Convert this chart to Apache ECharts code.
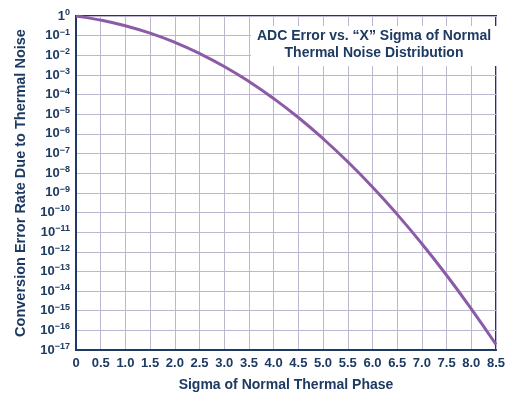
<!DOCTYPE html>
<html>
<head>
<meta charset="utf-8">
<script src="https://cdn.jsdelivr.net/npm/echarts@6/dist/echarts.min.js"></script>
<style>
  html, body { margin: 0; padding: 0; background: #fff; }
  #chart { width: 512px; height: 397px; }
</style>
</head>
<body>
<div id="chart"></div>
<script>
// sigma values on x axis
const sigma = [0, 0.5, 1, 1.5, 2, 2.5, 3, 3.5, 4, 4.5, 5, 5.5, 6, 6.5, 7, 7.5, 8, 8.5]
// conversion error rate
const errorRate = [1, 0.617, 0.317, 0.134, 0.0455, 0.0124, 0.0027, 4.65e-4, 6.3e-5, 6.8e-6,
  5.7e-7, 3.8e-8, 1.97e-9, 8.0e-11, 2.56e-12, 6.4e-14, 1.24e-15, 1.9e-17]
const yExponents = [0, -1, -2, -3, -4, -5, -6, -7, -8, -9, -10, -11, -12, -13, -14, -15, -16, -17]

const navy = '#1d3a62'
const chart = echarts.init(document.getElementById('chart'))

const option = {
  animation: false,
  textStyle: { fontFamily: 'Liberation Sans, Arial, sans-serif' },
  title: {
    text: 'ADC Error vs. \u201cX\u201d Sigma of Normal\nThermal Noise Distribution',
    left: 368,
    top: 26,
    textAlign: 'center',
    backgroundColor: '#fff',
    padding: [2, 6, 4, 6],
    textStyle: { color: navy, fontSize: 14, fontWeight: 'bold', lineHeight: 17 }
  },
  grid: {
    left: 76, right: 16, top: 16, bottom: 47,
    outerBoundsMode: 'none',
    containLabel: false,
    show: true, borderColor: navy, borderWidth: 2
  },
  xAxis: {
    type: 'value',
    min: 0, max: 8.5, interval: 0.5,
    name: 'Sigma of Normal Thermal Phase',
    nameLocation: 'middle',
    nameGap: 28,
    nameTextStyle: { color: navy, fontSize: 14, fontWeight: 'bold' },
    axisLine: { lineStyle: { color: navy, width: 2 } },
    axisTick: { show: false },
    axisLabel: {
      color: navy, fontSize: 13, fontWeight: 'bold', margin: 7,
      formatter: v => v === 0 ? '0' : v.toFixed(1)
    },
    splitLine: { lineStyle: { color: '#bdb8cf', width: 1 } }
  },
  yAxis: {
    type: 'log',
    logBase: 10,
    min: 1e-17, max: 1,
    interval: 1,
    name: 'Conversion Error Rate Due to Thermal Noise',
    nameLocation: 'middle',
    nameGap: 48,
    nameMoveOverlap: false,
    nameTextStyle: { color: navy, fontSize: 14.5, fontWeight: 'bold' },
    axisLine: { lineStyle: { color: navy, width: 2 } },
    axisTick: { show: false },
    axisLabel: {
      margin: 6,
      formatter: v => {
        const e = Math.round(Math.log10(v))
        if (!yExponents.includes(e)) return ''
        if (e === 0) return '{b|1}{s|0}'
        return '{b|10}{s|\u2212' + (-e) + '}'
      },
      rich: {
        b: { color: navy, fontSize: 13, fontWeight: 'bold' },
        s: { color: navy, fontSize: 9, fontWeight: 'bold', padding: [0, 0, 7, 0] }
      }
    },
    splitLine: { lineStyle: { color: '#bdb8cf', width: 1 } }
  },
  series: [{
    type: 'line',
    data: sigma.map((x, i) => [x, errorRate[i]]),
    smooth: true,
    showSymbol: false,
    lineStyle: { color: '#8b5ba8', width: 3 }
  }]
}

chart.setOption(option)
</script>
</body>
</html>
